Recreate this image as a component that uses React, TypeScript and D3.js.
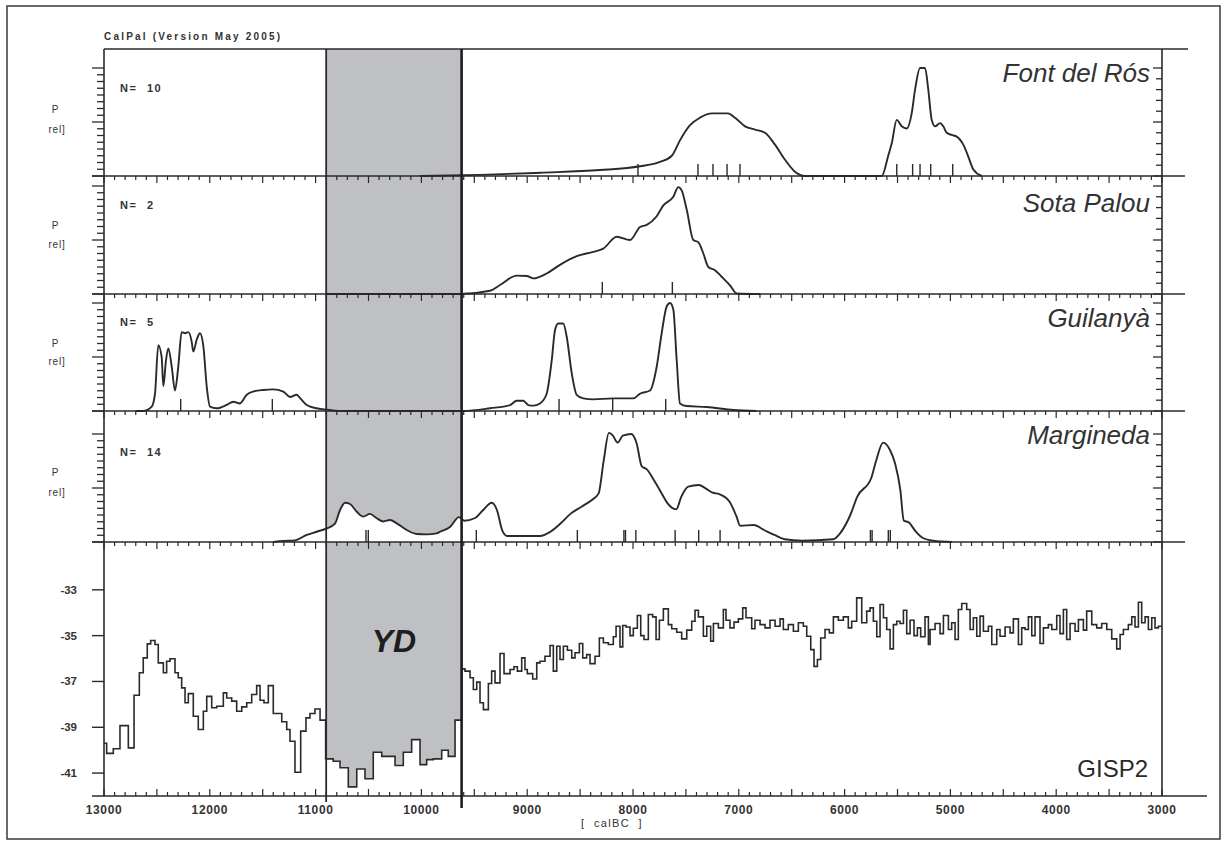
import { useEffect, useRef } from 'react';
import * as d3 from 'd3';

type Pt = [number, number];

// calibrated probability curves, [calBC, P rel]
const fontDelRosCurve: Pt[] = [
  [10013, 0], [9446, 0.01], [8879, 0.03], [8312, 0.055], [7934, 0.09], [7745, 0.13], [7631, 0.19],
  [7556, 0.33], [7461, 0.47], [7367, 0.54], [7253, 0.58], [7102, 0.58], [7036, 0.54], [6941, 0.46],
  [6847, 0.43], [6752, 0.4], [6658, 0.29], [6563, 0.15], [6469, 0.04], [6374, 0], [5649, 0],
  [5587, 0.19], [5555, 0.3], [5507, 0.52], [5460, 0.46], [5413, 0.44], [5366, 0.58], [5334, 0.8],
  [5287, 1.0], [5240, 1.0], [5209, 0.8], [5177, 0.52], [5145, 0.46], [5098, 0.49], [5067, 0.46],
  [5035, 0.4], [4988, 0.38], [4940, 0.365], [4878, 0.29], [4831, 0.18], [4783, 0.06], [4704, 0],
];
const fontDelRosDates = [7953, 7386, 7244, 7111, 6989, 5507, 5357, 5287, 5186, 4978];

const sotaPalouCurve: Pt[] = [
  [10900, 0], [9635, 0], [9352, 0.03], [9257, 0.083], [9099, 0.17], [9005, 0.167], [8942, 0.145],
  [8816, 0.19], [8690, 0.27], [8532, 0.35], [8375, 0.39], [8281, 0.42], [8154, 0.53], [8028, 0.5],
  [7934, 0.62], [7870, 0.64], [7776, 0.72], [7713, 0.82], [7619, 0.9], [7572, 0.99], [7540, 0.96],
  [7492, 0.78], [7430, 0.5], [7383, 0.48], [7335, 0.375], [7288, 0.25], [7225, 0.22], [7162, 0.16],
  [7083, 0.08], [7020, 0.005], [6799, 0],
];
const sotaPalouDates = [8290, 7628];

const guilanyaCurve: Pt[] = [
  [12700, 0], [12629, 0], [12549, 0.04], [12518, 0.16], [12487, 0.61], [12455, 0.5], [12439, 0.23],
  [12414, 0.47], [12392, 0.58], [12360, 0.41], [12329, 0.19], [12298, 0.41], [12266, 0.73],
  [12234, 0.72], [12203, 0.73], [12171, 0.64], [12156, 0.55], [12124, 0.66], [12093, 0.72],
  [12061, 0.6], [12029, 0.225], [11998, 0.04], [11935, 0.025], [11840, 0.056], [11778, 0.086],
  [11715, 0.07], [11651, 0.15], [11589, 0.18], [11494, 0.195], [11400, 0.2], [11305, 0.18],
  [11242, 0.13], [11179, 0.15], [11147, 0.12], [11084, 0.056], [10990, 0.025], [10911, 0.015],
  [10769, 0], [9604, 0], [9352, 0.025], [9162, 0.055], [9099, 0.095], [9037, 0.095], [8989, 0.055],
  [8942, 0.05], [8879, 0.07], [8816, 0.16], [8768, 0.47], [8737, 0.75], [8706, 0.81], [8659, 0.81],
  [8627, 0.69], [8579, 0.35], [8532, 0.15], [8470, 0.117], [8375, 0.108], [8186, 0.117],
  [7997, 0.117], [7934, 0.16], [7839, 0.19], [7776, 0.41], [7729, 0.72], [7681, 0.97], [7650, 1.0],
  [7619, 0.94], [7587, 0.47], [7556, 0.07], [7492, 0.046], [7303, 0.037], [7052, 0.009], [6831, 0],
];
const guilanyaDates = [12275, 11409, 8699, 8192, 7691];

const marginedaCurve: Pt[] = [
  [11400, 0], [11305, 0.01], [11211, 0.012], [11084, 0.065], [10990, 0.095], [10895, 0.126],
  [10817, 0.17], [10769, 0.296], [10722, 0.364], [10675, 0.352], [10611, 0.28], [10549, 0.235],
  [10486, 0.26], [10422, 0.22], [10360, 0.19], [10297, 0.204], [10233, 0.173], [10139, 0.111],
  [10044, 0.074], [9950, 0.071], [9855, 0.08], [9824, 0.095], [9727, 0.142], [9645, 0.23],
  [9596, 0.197], [9498, 0.22], [9416, 0.296], [9336, 0.364], [9286, 0.296], [9237, 0.111],
  [9189, 0.056], [9074, 0.056], [8878, 0.056], [8781, 0.095], [8683, 0.173], [8586, 0.265],
  [8487, 0.327], [8389, 0.389], [8325, 0.45], [8276, 0.76], [8228, 1.01], [8194, 0.99], [8145, 0.92],
  [8096, 0.985], [8016, 1.0], [7966, 0.915], [7917, 0.7], [7869, 0.673], [7803, 0.574], [7738, 0.466],
  [7673, 0.358], [7592, 0.302], [7543, 0.42], [7478, 0.512], [7379, 0.528], [7314, 0.497],
  [7249, 0.457], [7184, 0.444], [7087, 0.373], [7021, 0.234], [6988, 0.151], [6858, 0.157],
  [6761, 0.111], [6663, 0.065], [6565, 0.025], [6402, 0.012], [6108, 0.025], [6043, 0.08],
  [5946, 0.25], [5880, 0.42], [5749, 0.59], [5700, 0.76], [5636, 0.92], [5570, 0.85], [5522, 0.725],
  [5473, 0.48], [5441, 0.2], [5391, 0.18], [5326, 0.095], [5261, 0.037], [5163, 0.012], [4984, 0],
];
const marginedaDates = [10524, 10502, 9481, 8526, 8086, 8071, 7973, 7602, 7379, 7177, 5756, 5740, 5587, 5568];

const siteNames = ['Font del Rós', 'Sota Palou', 'Guilanyà', 'Margineda'];
const sampleCounts = [10, 2, 5, 14];

// GISP2 d18O, step starts (calBC) and values
const gispYears = [
  13000, 12975, 12912, 12849, 12770, 12716, 12666, 12629, 12591, 12559, 12518, 12487, 12439, 12408,
  12376, 12329, 12298, 12266, 12234, 12203, 12156, 12109, 12061, 12029, 11982, 11935, 11872, 11840,
  11793, 11746, 11698, 11651, 11604, 11557, 11525, 11488, 11447, 11400, 11320, 11273, 11242, 11195,
  11141, 11091, 11053, 11006, 10958, 10905, 10833, 10769, 10691, 10611, 10533, 10455, 10375, 10249,
  10171, 10092, 10013, 9950, 9887, 9808, 9746, 9682, 9619, 9588, 9540, 9509, 9477, 9446, 9414, 9367,
  9336, 9304, 9257, 9219, 9162, 9125, 9093, 9052, 9021, 8999, 8948, 8910, 8879, 8832, 8784, 8753,
  8721, 8690, 8658, 8620, 8579, 8548, 8507, 8475, 8438, 8406, 8359, 8318, 8280, 8233, 8186, 8160,
  8123, 8097, 8066, 8028, 7997, 7959, 7927, 7896, 7855, 7814, 7782, 7751, 7713, 7666, 7634, 7587,
  7540, 7492, 7445, 7414, 7382, 7335, 7303, 7266, 7240, 7193, 7146, 7121, 7083, 7045, 7004, 6963,
  6932, 6878, 6847, 6799, 6752, 6705, 6657, 6610, 6579, 6532, 6484, 6437, 6390, 6358, 6320, 6289,
  6257, 6226, 6185, 6144, 6106, 6059, 6012, 5965, 5933, 5886, 5838, 5791, 5759, 5728, 5696, 5665,
  5633, 5602, 5570, 5539, 5507, 5476, 5444, 5413, 5381, 5344, 5312, 5281, 5240, 5208, 5192, 5145,
  5098, 5066, 5019, 4988, 4956, 4925, 4893, 4846, 4814, 4783, 4751, 4720, 4688, 4641, 4609, 4562,
  4531, 4483, 4436, 4405, 4357, 4326, 4294, 4263, 4231, 4200, 4153, 4121, 4074, 4042, 3995, 3964,
  3932, 3901, 3869, 3822, 3790, 3743, 3712, 3664, 3617, 3570, 3522, 3475, 3428, 3396, 3365, 3318,
  3286, 3255, 3223, 3192, 3160, 3129, 3097, 3066, 3034,
];
const gispValues = [
  -39.7, -40.14, -39.94, -38.93, -39.9, -37.6, -36.62, -35.97, -35.36, -35.21, -35.39, -36.19, -36.62,
  -36.12, -36.01, -36.62, -36.84, -37.28, -37.93, -37.53, -38.52, -39.1, -38.3, -37.65, -38.15,
  -38.08, -37.5, -37.72, -37.86, -38.3, -38.11, -37.93, -37.57, -37.18, -37.82, -37.93, -37.18,
  -38.4, -38.76, -39.1, -39.61, -40.96, -39.17, -38.59, -38.4, -38.2, -38.69, -40.38, -40.48, -40.77,
  -41.6, -40.82, -41.25, -40.09, -40.27, -40.67, -40.09, -39.54, -40.63, -40.41, -40.38, -40.0,
  -40.27, -38.69, -36.45, -36.55, -36.84, -37.35, -37.03, -37.93, -38.23, -37.09, -36.55, -37.06,
  -35.78, -36.66, -36.48, -36.36, -36.55, -35.97, -36.48, -36.66, -36.89, -36.19, -36.12, -35.9,
  -35.43, -36.55, -35.46, -36.04, -35.46, -35.64, -35.97, -35.75, -35.34, -35.97, -35.83, -36.22,
  -35.9, -35.1, -35.31, -35.39, -35.05, -34.59, -35.49, -34.56, -34.62, -35.0, -34.68, -34.12, -35.0,
  -35.17, -34.08, -34.18, -35.17, -34.33, -33.83, -34.52, -34.7, -34.85, -35.14, -34.76, -34.37,
  -33.89, -34.18, -35.03, -34.59, -35.24, -34.47, -34.66, -33.86, -34.33, -34.66, -34.41, -34.27,
  -33.79, -34.22, -34.7, -34.33, -34.52, -34.66, -34.33, -34.59, -34.27, -34.73, -34.52, -34.81,
  -34.44, -34.59, -35.03, -35.61, -36.34, -36.04, -35.1, -34.73, -34.88, -34.18, -34.33, -34.18,
  -34.66, -34.37, -33.35, -34.44, -33.93, -33.79, -34.37, -35.05, -33.64, -34.22, -34.73, -35.58,
  -34.52, -34.37, -34.47, -33.89, -34.91, -34.33, -35.0, -34.66, -35.05, -34.18, -35.39, -34.73,
  -34.47, -34.91, -34.12, -34.73, -34.44, -35.17, -33.86, -33.6, -33.86, -34.73, -34.22, -35.03,
  -34.15, -34.81, -34.59, -35.39, -34.73, -35.03, -34.62, -34.88, -34.27, -35.39, -34.66, -34.73,
  -34.18, -35.0, -34.18, -35.34, -34.66, -34.52, -34.73, -34.12, -34.91, -33.86, -35.17, -34.47,
  -34.81, -34.3, -34.76, -33.93, -34.52, -34.66, -34.47, -34.73, -35.14, -35.58, -34.95, -34.73,
  -34.52, -34.18, -34.62, -33.54, -34.44, -34.18, -34.73, -34.22, -34.66, -34.59,
];
const gispEnd = 3000;

const gispTicks = [-33, -35, -37, -39, -41];
const yearLabels = [13000, 12000, 11000, 10000, 9000, 8000, 7000, 6000, 5000, 4000, 3000];
const ydStart = 10900;
const ydEnd = 9620;

// layout
const W = 1227;
const H = 846;
const TOP = 49;
const AXIS_BOTTOM = 796;
const panelBottoms = [176, 294, 411, 542];
const titleBase = [82, 212, 327, 444];
const nBase = [92, 209, 326, 456];
const pBase = [113, 229, 347, 476];
const relBase = [133, 248, 365, 496];

export default function App() {
  const svgRef = useRef<SVGSVGElement>(null);

  useEffect(() => {
    if (!svgRef.current) return;
    const svg = d3.select(svgRef.current);
    svg.selectAll('*').remove();

    const ink = '#2a2a2a';
    const font = "'Liberation Sans', Arial, Helvetica, sans-serif";
    const x = d3.scaleLinear().domain([13000, 3000]).range([104, 1162]);
    const gy = d3.scaleLinear().domain([-42, -31]).range([796, 544]);

    const panels = [
      { curve: fontDelRosCurve, dates: fontDelRosDates },
      { curve: sotaPalouCurve, dates: sotaPalouDates },
      { curve: guilanyaCurve, dates: guilanyaDates },
      { curve: marginedaCurve, dates: marginedaDates },
    ];

    svg
      .append('rect')
      .attr('x', 7)
      .attr('y', 6)
      .attr('width', 1213)
      .attr('height', 833)
      .attr('fill', '#fff')
      .attr('stroke', '#3a3a3a')
      .attr('stroke-width', 1.5);

    // Younger Dryas band
    svg
      .append('rect')
      .attr('x', x(ydStart))
      .attr('y', TOP)
      .attr('width', x(ydEnd) - x(ydStart))
      .attr('height', AXIS_BOTTOM - TOP)
      .attr('fill', '#bfc0c4');

    const yearTicks = d3.range(13000, 2999, -100);

    panels.forEach((panel, i) => {
      const bottom = panelBottoms[i];
      const y = d3.scaleLinear().domain([0, 1]).range([bottom, bottom - 108]);

      const area = d3
        .area<Pt>()
        .x((d) => x(d[0]))
        .y0(bottom)
        .y1((d) => y(d[1]))
        .curve(d3.curveMonotoneX);
      svg.append('path').datum(panel.curve).attr('d', area).attr('fill', '#fff');

      const line = d3
        .line<Pt>()
        .x((d) => x(d[0]))
        .y((d) => y(d[1]))
        .curve(d3.curveMonotoneX);
      svg
        .append('path')
        .datum(panel.curve)
        .attr('d', line)
        .attr('fill', 'none')
        .attr('stroke', ink)
        .attr('stroke-width', 1.9)
        .attr('stroke-linejoin', 'round');

      // sample dates
      svg
        .append('g')
        .selectAll('line')
        .data(panel.dates)
        .join('line')
        .attr('x1', (d) => x(d))
        .attr('x2', (d) => x(d))
        .attr('y1', bottom)
        .attr('y2', bottom - 12)
        .attr('stroke', ink)
        .attr('stroke-width', 1.4);

      // separator / x axis
      svg
        .append('line')
        .attr('x1', 92)
        .attr('x2', 1185)
        .attr('y1', bottom)
        .attr('y2', bottom)
        .attr('stroke', ink)
        .attr('stroke-width', 1.6);
      svg
        .append('g')
        .selectAll('line')
        .data(yearTicks)
        .join('line')
        .attr('x1', (d) => x(d))
        .attr('x2', (d) => x(d))
        .attr('y1', bottom)
        .attr('y2', (d) => bottom + (d % 500 === 0 ? 7 : 4))
        .attr('stroke', ink)
        .attr('stroke-width', 1.2);

      // left P ticks
      const leftTicks = d3.range(0, 17).map((k) => k / 16);
      svg
        .append('g')
        .selectAll('line')
        .data(leftTicks)
        .join('line')
        .attr('x1', (_d, k) => (k % 8 === 0 ? 92 : 97))
        .attr('x2', 104)
        .attr('y1', (d) => y(d))
        .attr('y2', (d) => y(d))
        .attr('stroke', ink)
        .attr('stroke-width', 1.3);

      // right P ticks
      const rightTicks = d3.range(0, 11).map((k) => k / 10);
      svg
        .append('g')
        .selectAll('line')
        .data(rightTicks)
        .join('line')
        .attr('x1', (_d, k) => (k % 5 === 0 ? 1153 : 1156))
        .attr('x2', 1162)
        .attr('y1', (d) => y(d))
        .attr('y2', (d) => y(d))
        .attr('stroke', ink)
        .attr('stroke-width', 1.3);

      svg
        .append('text')
        .attr('x', 1150)
        .attr('y', titleBase[i])
        .attr('text-anchor', 'end')
        .attr('font-family', font)
        .attr('font-style', 'italic')
        .attr('font-size', 26)
        .attr('fill', '#333')
        .text(siteNames[i]);

      svg
        .append('text')
        .attr('x', 120)
        .attr('y', nBase[i])
        .attr('font-family', font)
        .attr('font-weight', 'bold')
        .attr('font-size', 11)
        .attr('letter-spacing', 1.6)
        .attr('fill', '#333')
        .style('white-space', 'pre')
        .text(`N=  ${sampleCounts[i]}`);

      svg
        .append('text')
        .attr('x', 55)
        .attr('y', pBase[i])
        .attr('text-anchor', 'middle')
        .attr('font-family', font)
        .attr('font-size', 10)
        .attr('fill', '#333')
        .text('P');
      svg
        .append('text')
        .attr('x', 57)
        .attr('y', relBase[i])
        .attr('text-anchor', 'middle')
        .attr('font-family', font)
        .attr('font-size', 10)
        .attr('letter-spacing', 0.8)
        .attr('fill', '#333')
        .text('rel]');
    });

    // GISP2 step curve
    const gispPts: Pt[] = gispYears.map((yr, i) => [yr, gispValues[i]]);
    gispPts.push([gispEnd, gispValues[gispValues.length - 1]]);
    const gArea = d3
      .area<Pt>()
      .x((d) => x(d[0]))
      .y0(AXIS_BOTTOM)
      .y1((d) => gy(d[1]))
      .curve(d3.curveStepAfter);
    svg.append('path').datum(gispPts).attr('d', gArea).attr('fill', '#fff');
    const gLine = d3
      .line<Pt>()
      .x((d) => x(d[0]))
      .y((d) => gy(d[1]))
      .curve(d3.curveStepAfter);
    svg
      .append('path')
      .datum(gispPts)
      .attr('d', gLine)
      .attr('fill', 'none')
      .attr('stroke', ink)
      .attr('stroke-width', 1.6);

    // frame lines
    svg.append('line').attr('x1', 104).attr('x2', 1188).attr('y1', TOP).attr('y2', TOP)
      .attr('stroke', ink).attr('stroke-width', 1.6);
    svg.append('line').attr('x1', 92).attr('x2', 1207).attr('y1', AXIS_BOTTOM).attr('y2', AXIS_BOTTOM)
      .attr('stroke', ink).attr('stroke-width', 1.6);
    svg.append('line').attr('x1', 104).attr('x2', 104).attr('y1', TOP).attr('y2', AXIS_BOTTOM)
      .attr('stroke', ink).attr('stroke-width', 1.6);
    svg.append('line').attr('x1', 1162).attr('x2', 1162).attr('y1', TOP).attr('y2', AXIS_BOTTOM)
      .attr('stroke', ink).attr('stroke-width', 1.6);

    // bottom axis ticks
    svg
      .append('g')
      .selectAll('line')
      .data(yearTicks)
      .join('line')
      .attr('x1', (d) => x(d))
      .attr('x2', (d) => x(d))
      .attr('y1', AXIS_BOTTOM)
      .attr('y2', (d) => AXIS_BOTTOM - (d % 500 === 0 ? 7 : 4))
      .attr('stroke', ink)
      .attr('stroke-width', 1.2);
    svg
      .append('g')
      .selectAll('text')
      .data(yearLabels)
      .join('text')
      .attr('x', (d) => x(d))
      .attr('y', 814)
      .attr('text-anchor', 'middle')
      .attr('font-family', font)
      .attr('font-weight', 'bold')
      .attr('font-size', 12)
      .attr('letter-spacing', 0.6)
      .attr('fill', '#333')
      .text((d) => String(d));
    svg
      .append('text')
      .attr('x', 612)
      .attr('y', 827)
      .attr('text-anchor', 'middle')
      .attr('font-family', font)
      .attr('font-size', 11)
      .attr('letter-spacing', 1.3)
      .attr('fill', '#333')
      .style('white-space', 'pre')
      .text('[  calBC  ]');

    // GISP2 y axis
    svg
      .append('g')
      .selectAll('line')
      .data(gispTicks)
      .join('line')
      .attr('x1', 92)
      .attr('x2', 104)
      .attr('y1', (d) => gy(d))
      .attr('y2', (d) => gy(d))
      .attr('stroke', ink)
      .attr('stroke-width', 1.4);
    svg
      .append('g')
      .selectAll('text')
      .data(gispTicks)
      .join('text')
      .attr('x', 77)
      .attr('y', (d) => gy(d))
      .attr('dy', '0.35em')
      .attr('text-anchor', 'end')
      .attr('font-family', font)
      .attr('font-weight', 'bold')
      .attr('font-size', 11.5)
      .attr('fill', '#333')
      .text((d) => String(d));

    // YD edges
    svg.append('line').attr('x1', x(ydStart)).attr('x2', x(ydStart)).attr('y1', TOP).attr('y2', 802)
      .attr('stroke', ink).attr('stroke-width', 1.8);
    svg.append('line').attr('x1', x(ydEnd)).attr('x2', x(ydEnd)).attr('y1', TOP).attr('y2', 808)
      .attr('stroke', '#1e1e1e').attr('stroke-width', 2.6);

    svg
      .append('text')
      .attr('x', (x(ydStart) + x(ydEnd)) / 2)
      .attr('y', 652)
      .attr('text-anchor', 'middle')
      .attr('font-family', font)
      .attr('font-weight', 'bold')
      .attr('font-style', 'italic')
      .attr('font-size', 32)
      .attr('fill', '#1e1e1e')
      .text('YD');

    svg
      .append('text')
      .attr('x', 1148)
      .attr('y', 777)
      .attr('text-anchor', 'end')
      .attr('font-family', font)
      .attr('font-size', 24)
      .attr('fill', '#2a2a2a')
      .text('GISP2');

    svg
      .append('text')
      .attr('x', 104)
      .attr('y', 40)
      .attr('font-family', font)
      .attr('font-weight', 'bold')
      .attr('font-size', 10)
      .attr('textLength', 176)
      .attr('lengthAdjust', 'spacing')
      .attr('fill', '#333')
      .text('CalPal (Version May 2005)');
  }, []);

  return (
    <svg
      ref={svgRef}
      width={W}
      height={H}
      style={{ position: 'absolute', left: 0, top: 0, background: '#fff' }}
    />
  );
}
